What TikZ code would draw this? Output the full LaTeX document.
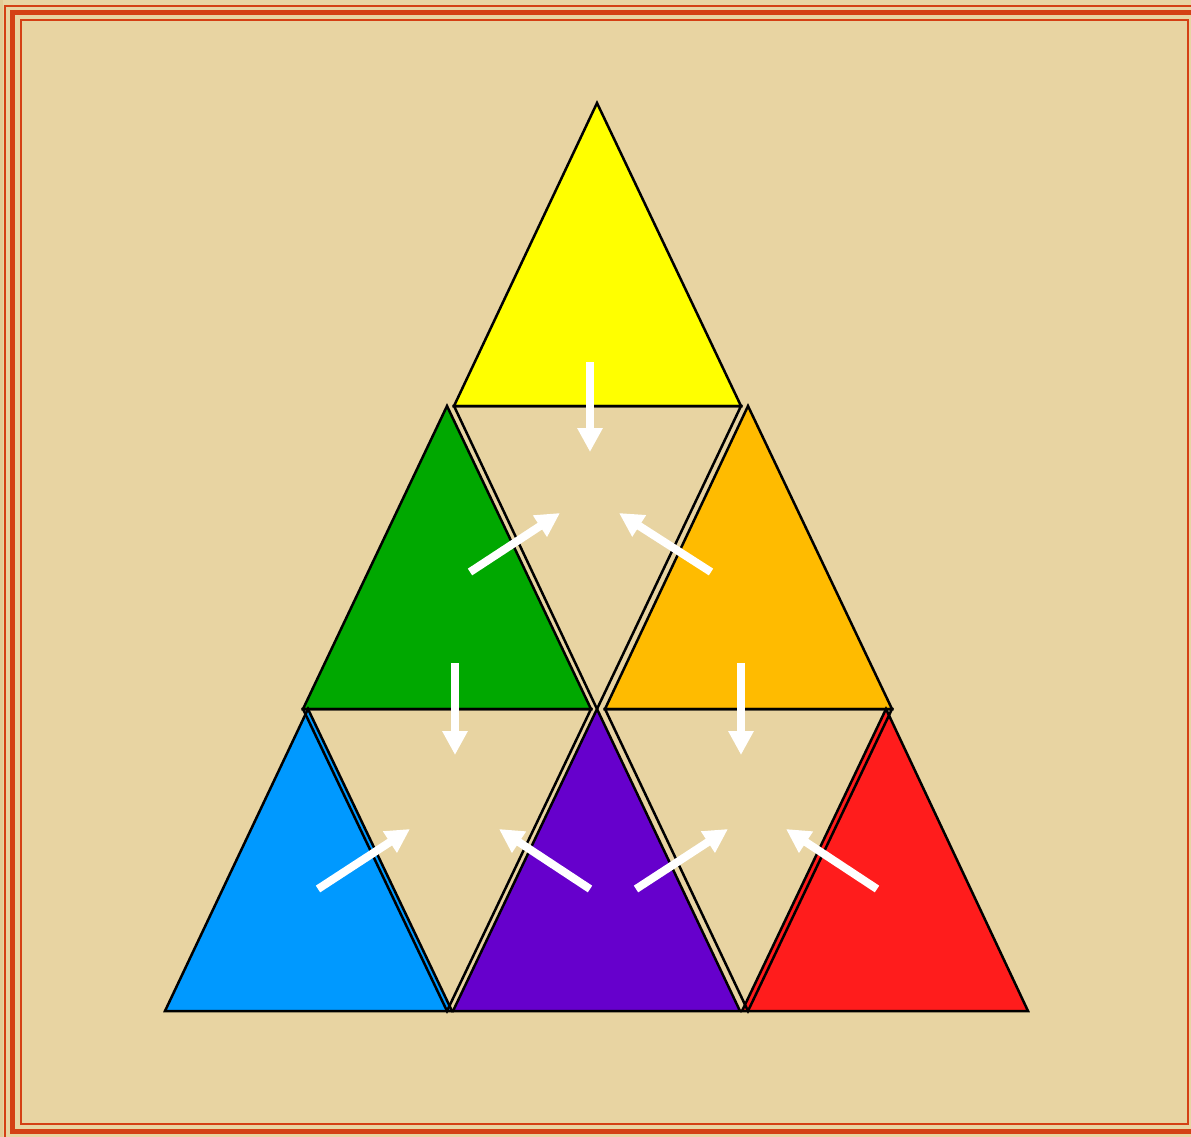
\documentclass[tikz,border=0pt]{standalone}
\usetikzlibrary{arrows.meta}
\definecolor{parch}{RGB}{232,212,162}
\definecolor{parchdark}{RGB}{222,198,140}
\definecolor{frame}{RGB}{212,64,20}
\definecolor{tyellow}{RGB}{255,255,0}
\definecolor{tgreen}{RGB}{0,168,0}
\definecolor{torange}{RGB}{255,187,0}
\definecolor{tblue}{RGB}{0,153,255}
\definecolor{tpurple}{RGB}{102,0,204}
\definecolor{tred}{RGB}{255,28,28}
\tikzset{
  tri/.style={draw=black, line width=2.5pt, line join=miter},
  hole/.style={draw=black, line width=2.5pt},
  warrow/.style={draw=white, line width=8pt, -{Triangle[width=24pt,length=24pt]}}
}
\begin{document}
\begin{tikzpicture}[x=1pt,y=-1pt]
\useasboundingbox (0,0) rectangle (1191,1137);
% background
\fill[parch] (0,0) rectangle (1191,1137);
\fill[parchdark!60!parch] (0,0) rectangle (3,1137);
% frame
\draw[frame, line width=2.5pt] (5,6) rectangle (1200,1145);
\draw[frame, line width=5pt] (12.5,12.5) rectangle (1195,1131);
\draw[frame, line width=2.5pt] (21,20) rectangle (1188,1124);
% coloured triangles
\coordinate (yA) at (597,103);
\coordinate (yL) at (454,406);
\coordinate (yR) at (741,406);
\filldraw[tri, fill=tyellow] (yA) -- (yL) -- (yR) -- cycle;
\filldraw[tri, fill=tgreen] (447,406) -- (303,709) -- (591,709) -- cycle;
\filldraw[tri, fill=torange] (748,406) -- (605,709) -- (892,709) -- cycle;
\filldraw[tri, fill=tblue] (308,709) -- (165,1011) -- (452,1011) -- cycle;
\filldraw[tri, fill=tpurple] (597,709) -- (453,1011) -- (740,1011) -- cycle;
\filldraw[tri, fill=tred] (886,709) -- (742,1011) -- (1028,1011) -- cycle;
% hole outlines
\draw[hole] (454,406) -- (741,406) -- (597,709) -- cycle;
\draw[hole] (303,709) -- (591,709) -- (447,1011) -- cycle;
\draw[hole] (605,709) -- (892,709) -- (748,1011) -- cycle;
% arrows
\coordinate (a1s) at (590,362); \coordinate (a1e) at (590,452);
\coordinate (a2s) at (470,572); \coordinate (a2e) at (560,513);
\coordinate (a3s) at (711,572); \coordinate (a3e) at (619,513);
\coordinate (a4s) at (455,663); \coordinate (a4e) at (455,755);
\coordinate (a5s) at (741,663); \coordinate (a5e) at (741,755);
\coordinate (a6s) at (318,889); \coordinate (a6e) at (410,829);
\coordinate (a7s) at (590,889); \coordinate (a7e) at (499,829);
\coordinate (a8s) at (636,889); \coordinate (a8e) at (728,829);
\coordinate (a9s) at (877,889); \coordinate (a9e) at (786,829);
\foreach \i in {1,...,9} { \draw[warrow] (a\i s) -- (a\i e); }
\end{tikzpicture}
\end{document}
